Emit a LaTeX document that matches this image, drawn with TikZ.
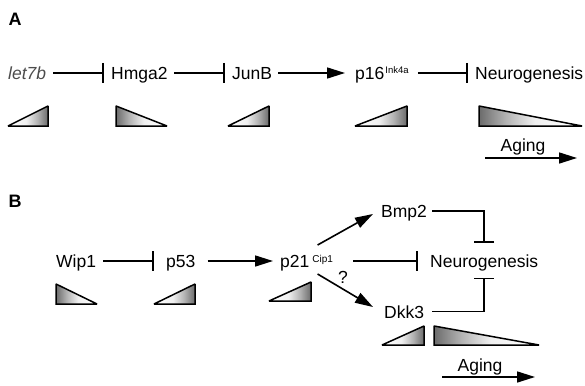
\documentclass[tikz,border=0pt]{standalone}
\usepackage{fontspec}
\setmainfont{Liberation Sans}
\usetikzlibrary{arrows.meta}
\pgfdeclarehorizontalshading{incsh}{100bp}{color(0bp)=(white); color(25bp)=(white); color(48bp)=(black!6); color(62bp)=(black!30); color(75bp)=(black!58); color(100bp)=(black!58)}
\pgfdeclarehorizontalshading{decsh}{100bp}{color(0bp)=(black!58); color(25bp)=(black!58); color(38bp)=(black!30); color(52bp)=(black!6); color(75bp)=(white); color(100bp)=(white)}
\begin{document}
\begin{tikzpicture}[x=1pt,y=-1pt,
  lbl/.style={inner sep=0pt,text height=13pt,text depth=0pt,anchor=west,font=\fontsize{17.5}{20}\selectfont},
  plab/.style={inner sep=0pt,anchor=center,font=\fontsize{18}{20}\selectfont\bfseries},
  inh/.style={line width=1.6pt,line join=miter,-{Bar[width=20pt]}},
  act/.style={line width=1.6pt,-{Triangle[length=18pt,width=11pt]}},
  tri/.style={line width=1.5pt,line join=miter,miter limit=1.5},
  incr/.style={tri,shading=incsh},
  decr/.style={tri,shading=decsh},
]
\useasboundingbox (0,0) rectangle (585,385);

% ---------- Panel A ----------
\node[plab] (labA) at (15,19) {A};
\node[lbl,text=black!70] (let) at (8,73) {\itshape let7b};
\node[lbl] (hmga) at (111,73) {Hmga2};
\node[lbl] (junb) at (232,73) {JunB};
\node[lbl] (p16) at (355,73) {p16\hspace{1pt}\raisebox{6pt}{\fontsize{9.5}{10}\selectfont Ink4a}};
\node[lbl] (neuA) at (475,73) {Neurogenesis};

\draw[inh] ([xshift=7pt]let.east) -- ([xshift=-7pt]hmga.west);
\draw[inh] ([xshift=6.6pt]hmga.east) -- ([xshift=-7pt]junb.west);
\draw[act] ([xshift=6pt]junb.east) -- ([xshift=-10pt]p16.west);
\draw[inh] ([xshift=9pt]p16.east) -- ([xshift=-7pt]neuA.west);

\shadedraw[incr] (8,126) -- (48,126) -- (48,106) -- cycle;
\shadedraw[decr] (116,106) -- (116,126) -- (167,126) -- cycle;
\shadedraw[incr] (228,126) -- (269,126) -- (269,106) -- cycle;
\shadedraw[incr] (355,126) -- (407,126) -- (407,106) -- cycle;
\shadedraw[decr] (479,106) -- (479,126) -- (582,126) -- cycle;

\node[lbl,anchor=center] (agingA) at (523,144.5) {Aging};
\coordinate (agA1) at (485,158);
\coordinate (agA2) at (577,158);
\draw[act] (agA1) -- (agA2);

% ---------- Panel B ----------
\node[plab] (labB) at (15,201) {B};
\node[lbl] (wip) at (56,261) {Wip1};
\node[lbl] (p53) at (166,261) {p53};
\node[lbl] (p21) at (280,261) {p21\hspace{3pt}\raisebox{5pt}{\fontsize{10}{11}\selectfont Cip1}};
\node[lbl] (bmp) at (381,211) {Bmp2};
\node[lbl] (dkk) at (384,311.5) {Dkk3};
\node[lbl] (neuB) at (430,261) {Neurogenesis};
\node[lbl,anchor=center] (q) at (343,277) {?};

\draw[inh] ([xshift=7pt]wip.east) -- ([xshift=-12pt]p53.west);
\draw[act] ([xshift=12pt]p53.east) -- ([xshift=-7pt]p21.west);
\draw[inh] ([xshift=20pt]p21.east) -- ([xshift=-12pt]neuB.west);
\draw[act] ([shift={(11,-16)}]p21.center) -- ([shift={(-8,3)}]bmp.west);
\draw[act] ([shift={(11,13)}]p21.center) -- ([shift={(-11,-4.5)}]dkk.west);
\draw[inh] ([xshift=5pt]bmp.east) -| ([yshift=11.5pt]neuB.north);
\draw[inh] ([xshift=8pt]dkk.east) -| ([yshift=-10pt]neuB.south);

\shadedraw[decr] (56,284) -- (56,304) -- (97,304) -- cycle;
\shadedraw[incr] (154,304) -- (195,304) -- (195,284) -- cycle;
\shadedraw[incr] (269,301) -- (311,301) -- (311,282) -- cycle;
\shadedraw[incr] (382,345) -- (424,345) -- (424,326) -- cycle;
\shadedraw[decr] (434,326) -- (434,345) -- (539,345) -- cycle;

\node[lbl,anchor=center] (agingB) at (480,364.5) {Aging};
\coordinate (agB1) at (442,377);
\coordinate (agB2) at (535,377);
\draw[act] (agB1) -- (agB2);
\end{tikzpicture}
\end{document}
